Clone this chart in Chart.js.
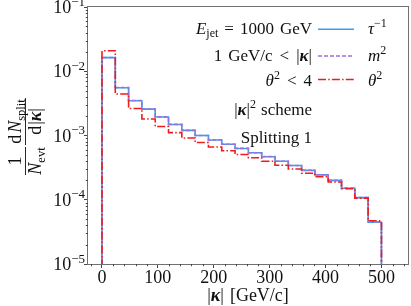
<!DOCTYPE html>
<html>
<head>
<meta charset="utf-8">
<script src="https://cdn.jsdelivr.net/npm/chart.js@4.4.0/dist/chart.umd.min.js"></script>
<style>
  html, body { margin: 0; padding: 0; background: #fff; }
  #wrap { width: 411px; height: 306px; }
</style>
</head>
<body>
<div id="wrap"><canvas id="chart" width="411" height="306"></canvas></div>
<script>
// histogram bin edges in |kappa| (GeV/c)
const binEdges = [0, 23.81, 47.62, 71.43, 95.24, 119.05, 142.86, 166.67, 190.48, 214.29, 238.10,
  261.90, 285.71, 309.52, 333.33, 357.14, 380.95, 404.76, 428.57, 452.38, 476.19, 500];

// 1/N_evt dN_split/d|kappa| per bin
const tauValues = [1.63e-2, 5.55e-3, 3.48e-3, 2.57e-3, 1.94e-3, 1.48e-3, 1.20e-3, 1.00e-3, 8.5e-4, 7.3e-4,
  6.28e-4, 5.4e-4, 4.68e-4, 3.97e-4, 3.41e-4, 2.87e-4, 2.44e-4, 2.0e-4, 1.51e-4, 1.08e-4, 4.46e-5];
const m2Values = [1.64e-2, 5.6e-3, 3.5e-3, 2.58e-3, 1.95e-3, 1.49e-3, 1.2e-3, 1.0e-3, 8.5e-4, 7.3e-4,
  6.3e-4, 5.4e-4, 4.7e-4, 3.98e-4, 3.42e-4, 2.88e-4, 2.45e-4, 2.0e-4, 1.52e-4, 1.08e-4, 4.55e-5];
const theta2Values = [2.08e-2, 4.42e-3, 2.63e-3, 1.81e-3, 1.38e-3, 1.11e-3, 9.14e-4, 7.78e-4, 6.62e-4, 5.78e-4,
  5.06e-4, 4.51e-4, 3.98e-4, 3.44e-4, 3.01e-4, 2.58e-4, 2.28e-4, 1.89e-4, 1.48e-4, 1.06e-4, 4.70e-5];

const xTicks = [0, 100, 200, 300, 400, 500];
const xMinorTicks = [-20, 20, 40, 60, 80, 120, 140, 160, 180, 220, 240, 260, 280, 320, 340, 360, 380,
  420, 440, 460, 480, 520, 540];
const yTicks = [1e-5, 1e-4, 1e-3, 1e-2, 1e-1];
const yTickExponents = ['\u22125', '\u22124', '\u22123', '\u22122', '\u22121'];

const SERIF = '"Liberation Serif", "DejaVu Serif", serif';
const BLUE = '#3b9ded';
const PURPLE = '#9a72dc';
const RED = '#f01c1c';
const INK = '#111';

// turn bin contents into step points (drops to the floor at both ends)
function histPoints(values) {
  const pts = [{ x: binEdges[0], y: 1e-7 }];
  for (let i = 0; i < values.length; i++) {
    pts.push({ x: binEdges[i], y: values[i] });
  }
  const last = binEdges[binEdges.length - 1];
  pts.push({ x: last, y: values[values.length - 1] });
  pts.push({ x: last, y: 1e-7 });
  return pts;
}

function font(size, style) {
  if (style === 'i') return 'italic ' + size + 'px ' + SERIF;
  if (style === 'bi') return 'italic bold ' + size + 'px ' + SERIF;
  return size + 'px ' + SERIF;
}

// draw a list of text runs {t, s, st, dy} or gaps {g} on one baseline
function drawRuns(ctx, runs, x, y, align) {
  let total = 0;
  runs.forEach(r => {
    if (r.g !== undefined) { r.w = r.g; total += r.g; return; }
    ctx.font = font(r.s, r.st);
    r.w = ctx.measureText(r.t).width;
    total += r.w;
  });
  let cx = x;
  if (align === 'right') cx = x - total;
  if (align === 'center') cx = x - total / 2;
  ctx.textAlign = 'left';
  ctx.textBaseline = 'alphabetic';
  runs.forEach(r => {
    if (r.g === undefined) {
      ctx.font = font(r.s, r.st);
      ctx.fillText(r.t, cx, y + (r.dy || 0));
    }
    cx += r.w;
  });
  return total;
}

const extras = {
  id: 'extras',
  afterDraw(chart) {
    const ctx = chart.ctx;
    const a = chart.chartArea;
    const xs = chart.scales.x;
    const ys = chart.scales.y;
    ctx.save();

    // frame
    ctx.strokeStyle = '#707070';
    ctx.lineWidth = 1;
    ctx.strokeRect(Math.round(a.left) - 0.5, Math.round(a.top) - 0.5,
      Math.round(a.right - a.left) + 1, Math.round(a.bottom - a.top) + 1);

    // minor ticks
    ctx.strokeStyle = '#444';
    ctx.beginPath();
    xMinorTicks.forEach(v => {
      const px = Math.round(xs.getPixelForValue(v)) + 0.5;
      ctx.moveTo(px, a.bottom);
      ctx.lineTo(px, a.bottom + 2.2);
    });
    for (let k = -5; k < -1; k++) {
      for (let d = 2; d <= 9; d++) {
        const py = Math.round(ys.getPixelForValue(d * Math.pow(10, k))) + 0.5;
        ctx.moveTo(a.left, py);
        ctx.lineTo(a.left - 2.2, py);
      }
    }
    ctx.stroke();

    ctx.fillStyle = INK;
    // x tick labels
    xTicks.forEach(v => {
      drawRuns(ctx, [{ t: String(v), s: 18 }], xs.getPixelForValue(v), 283, 'center');
    });
    // y tick labels 10^k
    yTicks.forEach((v, i) => {
      const py = ys.getPixelForValue(v);
      drawRuns(ctx, [{ t: '10', s: 18 }, { t: yTickExponents[i], s: 13, dy: -7.5 }], 85, py + 6, 'right');
    });

    // x axis title
    drawRuns(ctx, [{ t: '|', s: 18 }, { t: '\u03ba', s: 18, st: 'bi' }, { t: '|', s: 18 }, { g: 6 }, { t: '[GeV/c]', s: 18 }],
      248, 301, 'center');

    // y axis title: 1/N_evt dN_split/d|kappa|
    ctx.save();
    ctx.translate(25, 145);
    ctx.rotate(-Math.PI / 2);
    drawRuns(ctx, [{ t: '1', s: 18 }], -16, -4, 'center');
    drawRuns(ctx, [{ t: 'N', s: 18, st: 'i' }, { t: 'evt', s: 12.5, dy: 3.5 }], -16, 16, 'center');
    drawRuns(ctx, [{ t: 'd', s: 18 }, { g: 2 }, { t: 'N', s: 18, st: 'i' }, { t: 'split', s: 12.5, dy: 3.5 }], 23.5, -4, 'center');
    drawRuns(ctx, [{ t: 'd', s: 18 }, { g: 1 }, { t: '|', s: 18 }, { t: '\u03ba', s: 18, st: 'bi' }, { t: '|', s: 18 }], 23.5, 16, 'center');
    ctx.strokeStyle = INK;
    ctx.lineWidth = 0.9;
    ctx.beginPath();
    ctx.moveTo(-30, 0.5); ctx.lineTo(-2, 0.5);
    ctx.moveTo(0, 0.5); ctx.lineTo(47, 0.5);
    ctx.stroke();
    ctx.restore();

    // legend block
    const tx = 312;
    drawRuns(ctx, [{ t: 'E', s: 17, st: 'i' }, { t: 'jet', s: 12, dy: 3.5 }, { g: 6 }, { t: '=', s: 17 }, { g: 6 },
      { t: '1000', s: 17 }, { g: 6 }, { t: 'GeV', s: 17 }], tx, 33.5, 'right');
    drawRuns(ctx, [{ t: '1', s: 17 }, { g: 6 }, { t: 'GeV/c', s: 17 }, { g: 7 }, { t: '<', s: 17 }, { g: 7 },
      { t: '|', s: 17 }, { t: '\u03ba', s: 17, st: 'bi' }, { t: '|', s: 17 }], tx, 60.5, 'right');
    drawRuns(ctx, [{ t: '\u03b8', s: 17, st: 'i' }, { t: '2', s: 12, dy: -7 }, { g: 7 }, { t: '<', s: 17 }, { g: 7 },
      { t: '4', s: 17 }], tx, 85.5, 'right');
    drawRuns(ctx, [{ t: '|', s: 17 }, { t: '\u03ba', s: 17, st: 'bi' }, { t: '|', s: 17 }, { t: '2', s: 12, dy: -7 },
      { g: 5 }, { t: 'scheme', s: 17 }], tx, 115, 'right');
    drawRuns(ctx, [{ t: 'Splitting 1', s: 17 }], tx, 143, 'right');

    const lx = 368;
    drawRuns(ctx, [{ t: '\u03c4', s: 17, st: 'i' }, { t: '\u22121', s: 12, dy: -7 }], lx, 33.5, 'left');
    drawRuns(ctx, [{ t: 'm', s: 17, st: 'i' }, { t: '2', s: 12, dy: -7 }], lx, 60.5, 'left');
    drawRuns(ctx, [{ t: '\u03b8', s: 17, st: 'i' }, { t: '2', s: 12, dy: -7 }], lx, 85.5, 'left');

    // legend handles
    const handles = [
      { c: BLUE, d: [], y: 29.3 },
      { c: PURPLE, d: [4, 2], y: 56 },
      { c: RED, d: [8, 2.2, 1.5, 2.2], y: 79.5 }
    ];
    ctx.lineWidth = 1.6;
    handles.forEach(h => {
      ctx.strokeStyle = h.c;
      ctx.setLineDash(h.d);
      ctx.beginPath();
      ctx.moveTo(318, h.y);
      ctx.lineTo(354, h.y);
      ctx.stroke();
    });
    ctx.setLineDash([]);
    ctx.restore();
  }
};

new Chart(document.getElementById('chart'), {
  type: 'line',
  data: {
    datasets: [
      { label: 'tau^-1', data: histPoints(tauValues), borderColor: BLUE, borderWidth: 1.6, order: 3 },
      { label: 'm^2', data: histPoints(m2Values), borderColor: PURPLE, borderWidth: 1.6, borderDash: [4, 2], order: 2 },
      { label: 'theta^2', data: histPoints(theta2Values), borderColor: RED, borderWidth: 1.6, borderDash: [8, 2.2, 1.5, 2.2], order: 1 }
    ]
  },
  options: {
    responsive: false,
    animation: false,
    devicePixelRatio: 1,
    layout: { padding: { top: 7, right: 3, left: 0, bottom: 0 } },
    elements: {
      line: { stepped: 'before', tension: 0, fill: false },
      point: { radius: 0 }
    },
    plugins: { legend: { display: false }, tooltip: { enabled: false } },
    scales: {
      x: {
        type: 'linear',
        min: -25,
        max: 547.5,
        afterBuildTicks: s => { s.ticks = xTicks.map(v => ({ value: v })); },
        afterFit: s => { s.height = 42; },
        ticks: { display: false },
        border: { display: false },
        grid: { drawOnChartArea: false, drawTicks: true, tickLength: 4, tickColor: '#444' }
      },
      y: {
        type: 'logarithmic',
        min: 1e-5,
        max: 1e-1,
        afterBuildTicks: s => { s.ticks = yTicks.map(v => ({ value: v })); },
        afterFit: s => { s.width = 88; },
        ticks: { display: false },
        border: { display: false },
        grid: { drawOnChartArea: false, drawTicks: true, tickLength: 4, tickColor: '#444' }
      }
    }
  },
  plugins: [extras]
});
</script>
</body>
</html>
